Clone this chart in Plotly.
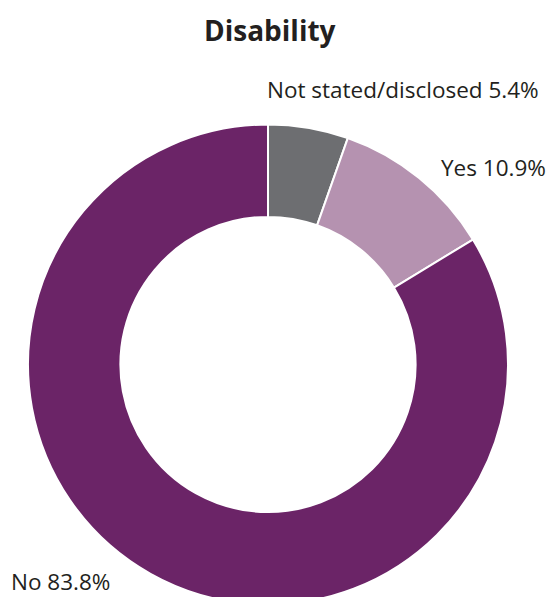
import plotly.graph_objects as go

categories = ["Not stated/disclosed", "Yes", "No"]
values = [5.4, 10.9, 83.8]
colors = ["#6d6e71", "#b592b0", "#6b2467"]
title_text = "Disability"

W, H = 550, 605  # canvas slightly taller than the 597 window: donut is cropped at bottom like the reference
FONT = "Open Sans"
TXT = "#231f20"

# donut geometry (pixels)
cx, cy, r = 268, 364.5, 240

fig = go.Figure(go.Pie(
    labels=categories,
    values=values,
    sort=False,
    direction="clockwise",
    rotation=0,
    hole=0.615,
    marker=dict(colors=colors, line=dict(color="white", width=2)),
    textinfo="none",
    hoverinfo="label+percent",
    showlegend=False,
    domain=dict(x=[(cx - r) / W, (cx + r) / W], y=[max(0, (H - (cy + r)) / H), (H - (cy - r)) / H]),
))

label_pos = [
    dict(x=541, y=90, xanchor="right"),
    dict(x=548, y=167, xanchor="right"),
    dict(x=9, y=581, xanchor="left"),
]
annotations = []
for cat, val, p in zip(categories, values, label_pos):
    annotations.append(dict(
        text=f"{cat} {val:.1f}%", x=p["x"] / W, y=1 - p["y"] / H,
        xref="paper", yref="paper", xanchor=p["xanchor"], yanchor="middle",
        showarrow=False, font=dict(family=FONT, size=22.5, color=TXT),
    ))
annotations.append(dict(
    text=f"<b>{title_text}</b>", x=270 / W, y=1 - 30 / H, xref="paper", yref="paper",
    xanchor="center", yanchor="middle", showarrow=False,
    font=dict(family=FONT, size=28, color=TXT),
))

fig.update_layout(
    width=W, height=H, autosize=False,
    margin=dict(l=0, r=0, t=0, b=0),
    paper_bgcolor="white", plot_bgcolor="white",
    annotations=annotations,
)

fig.write_html("out.html", post_script="document.documentElement.style.overflow='hidden';document.body.style.overflow='hidden';document.body.style.margin='0';")
